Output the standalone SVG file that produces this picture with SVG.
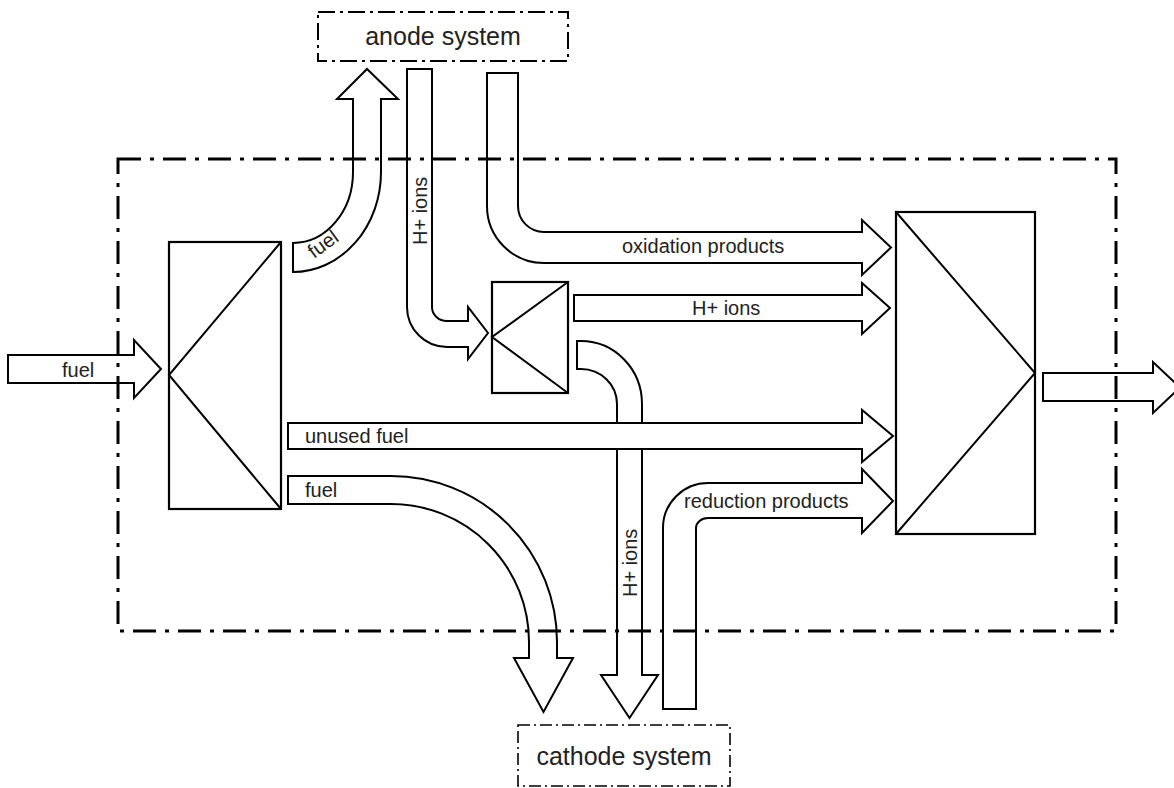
<svg xmlns="http://www.w3.org/2000/svg" width="1174" height="788" viewBox="0 0 1174 788">
<style>
.blk{fill:#fff;stroke:#000;stroke-width:2.2}
.ln{fill:none;stroke:#000;stroke-width:2}
.arr{fill:#fff;stroke:#000;stroke-width:2;stroke-linejoin:miter}
.lbl{font-family:"Liberation Sans",Arial,sans-serif;font-size:20px;fill:#222}
.sys{font-family:"Liberation Sans",Arial,sans-serif;font-size:25px;fill:#222}
.bound{fill:none;stroke:#000;stroke-width:3;stroke-dasharray:23 9 4 9}
.ext{fill:#fff;stroke:#000;stroke-width:2;stroke-dasharray:17 5 3 5}
.ext2{fill:#fff;stroke:#000;stroke-width:1.6;stroke-dasharray:12 4 2 4}
</style>
<rect width="1174" height="788" fill="#fff"/>
<g id="anode-system">
<rect class="ext" x="318" y="12" width="250" height="49"/>
<text class="sys" x="443" y="45" text-anchor="middle">anode system</text>
</g>
<g id="cathode-system">
<rect class="ext2" x="518" y="725" width="212" height="61"/>
<text class="sys" x="624" y="765" text-anchor="middle">cathode system</text>
</g>
<g id="connectors">
<g id="fuel-in">
<path class="arr" d="M8,355 H134 V340 L161,369 L134,398 V383 H8 Z"/>
<text class="lbl" x="62" y="377">fuel</text>
</g>
<g id="fuel-to-anode">
<path class="arr" d="M293,272 A88,100 0 0 0 381,172 V99 H398 L367,69 L337,99 H353 V172 A60,71 0 0 1 293,243 Z"/>
<text class="lbl" transform="translate(314,259) rotate(-36)">fuel</text>
</g>
<g id="hions-anode">
<path class="arr" d="M407,69 H432 V307 A15,14 0 0 0 447,321 H468 V307 L488,333 L468,359 V347 H447 A40,40 0 0 1 407,307 Z"/>
<text class="lbl" transform="translate(427,245) rotate(-90)">H+ ions</text>
</g>
<g id="oxidation">
<path class="arr" d="M487,73 H518 V206 A26,26 0 0 0 544,232 H862 V220 L891,247.5 L862,275 V263 H544 A57,57 0 0 1 487,206 Z"/>
<text class="lbl" x="622" y="253">oxidation products</text>
</g>
<g id="hions-right">
<path class="arr" d="M574,295 H862 V283 L890,308 L862,334 V321 H574 Z"/>
<text class="lbl" x="692" y="315">H+ ions</text>
</g>
<g id="hions-down">
<path class="arr" d="M577,341 H581 A61,63 0 0 1 642,404 V675 H658 L629.5,718 L601,675 H617 V404 A36,35 0 0 0 581,369 H577 Z"/>
<text class="lbl" transform="translate(637,597) rotate(-90)">H+ ions</text>
</g>
<g id="unused-fuel">
<path class="arr" d="M288,423 H862 V410 L893,436 L862,462 V449 H288 Z"/>
<text class="lbl" x="305" y="443">unused fuel</text>
</g>
<g id="fuel-to-cathode">
<path class="arr" d="M288,476 H391 A166,166 0 0 1 557,642 V658 H573 L543.5,712 L514,658 H529 V642 A138,138 0 0 0 391,504 H288 Z"/>
<text class="lbl" x="305" y="497">fuel</text>
</g>
<g id="reduction">
<path class="arr" d="M663,709 V528 A45,45 0 0 1 708,483 H862 V469 L893,501 L862,533 V518 H708 A12,10 0 0 0 696,528 V709 Z"/>
<text class="lbl" x="684" y="508">reduction products</text>
</g>
<g id="output">
<path class="arr" d="M1043,373 H1153 V362 L1180,387.5 L1153,413 V401 H1043 Z"/>
</g>
</g>
<g id="splitter">
<rect class="blk" x="169" y="242" width="112" height="267"/>
<path class="ln" d="M281,242 L169,375 L281,509"/>
</g>
<g id="small-splitter">
<rect class="blk" x="492" y="282" width="76" height="111"/>
<path class="ln" d="M568,282 L492,337 L568,393"/>
</g>
<g id="combiner">
<rect class="blk" x="896" y="212" width="139" height="322"/>
<path class="ln" d="M896,212 L1035,373 L896,534"/>
</g>
<g id="boundary">
<rect class="bound" x="118" y="159" width="998" height="472"/>
</g>
</svg>
